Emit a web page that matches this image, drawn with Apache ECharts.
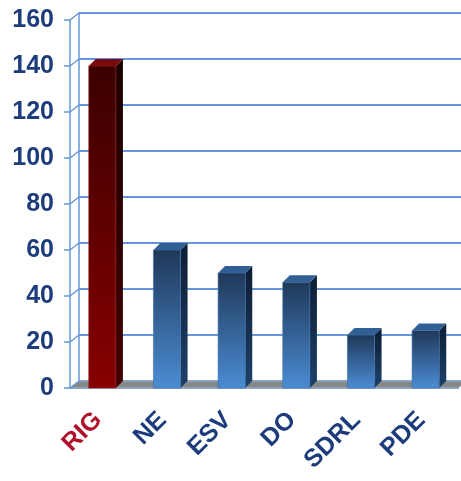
<!DOCTYPE html>
<html>
<head>
<meta charset="utf-8">
<script src="https://cdn.jsdelivr.net/npm/echarts@6/dist/echarts.min.js"></script>
<style>
  html, body { margin: 0; padding: 0; background: #fff; }
  #main { width: 461px; height: 481px; }
</style>
</head>
<body>
<div id="main"></div>
<script>
var categories = ['RIG', 'NE', 'ESV', 'DO', 'SDRL', 'PDE'];
var values = [140, 60, 50, 46, 23, 25];
var yTicks = [0, 20, 40, 60, 80, 100, 120, 140, 160];
var highlight = 'RIG';

var DX = 7, DY = 7;   // bar depth
var WX = 9, WY = 7;   // back wall offset
var gridColor = '#6597d8';
var textBlue = '#1c3c7c';
var textRed = '#b0122c';

function grad(c1, c2) {
  return new echarts.graphic.LinearGradient(0, 0, 0, 1, [
    {offset: 0, color: c1}, {offset: 1, color: c2}
  ]);
}

function renderBar(params, api) {
  var i = api.value(0), v = api.value(1);
  var base = api.coord([i, 0]);
  var top = api.coord([i, v]);
  var bw = api.size([1, 0])[0] * 0.42;
  var x0 = base[0] - bw / 2, x1 = base[0] + bw / 2;
  var y0 = top[1], y1 = base[1];
  var red = categories[i] === highlight;
  var front = red ? grad('#3a0000', '#870000') : grad('#1f3858', '#4b8cd4');
  var side = red ? grad('#1a0000', '#420000') : grad('#0d1d33', '#1d416a');
  var cap = red ? '#7a0a0a' : '#2f5f94';
  return {
    type: 'group',
    children: [
      {type: 'polygon', shape: {points: [[x1, y0], [x1 + DX, y0 - DY], [x1 + DX, y1 - DY], [x1, y1]]},
       style: {fill: side}},
      {type: 'polygon', shape: {points: [[x0, y0], [x0 + DX, y0 - DY], [x1 + DX, y0 - DY], [x1, y0]]},
       style: {fill: cap}},
      {type: 'rect', shape: {x: x0, y: y0, width: bw, height: y1 - y0},
       style: {fill: front, stroke: red ? '#a02020' : '#3d6fa8', lineWidth: 0.6}}
    ]
  };
}

function renderFloor(params, api) {
  var bw = api.size([1, 0])[0];
  var left = api.coord([0, 0])[0] - bw / 2;
  var right = api.coord([categories.length - 1, 0])[0] + bw / 2;
  var y = api.coord([0, 0])[1];
  var kids = [
    {type: 'polygon', shape: {points: [[left, y], [left + WX, y - WY], [right + WX, y - WY], [right, y]]},
     style: {fill: '#878787', stroke: '#a3b9d8', lineWidth: 1}}
  ];
  yTicks.forEach(function (t) {
    var ty = api.coord([0, t])[1];
    kids.push({type: 'line', shape: {x1: left, y1: ty, x2: left + WX, y2: ty - WY},
      style: {stroke: gridColor, lineWidth: 1.5}});
  });
  return {type: 'group', children: kids};
}

var chart = echarts.init(document.getElementById('main'));
chart.setOption({
  animation: false,
  grid: [
    {left: 70, top: 20, width: 388, height: 368},
    {left: 70 + WX, top: 20 - WY, width: 388, height: 368}
  ],
  xAxis: [
    {
      type: 'category', data: categories, gridIndex: 0,
      axisLine: {lineStyle: {color: gridColor, width: 2}},
      axisTick: {length: 6, lineStyle: {color: gridColor, width: 1.5}},
      axisLabel: {
        rotate: 45, margin: 24, fontSize: 25, fontWeight: 'bold',
        fontFamily: 'Liberation Sans, Arial, sans-serif',
        padding: [0, 6, 0, 0],
        color: function (val) { return val === highlight ? textRed : textBlue; }
      }
    },
    {type: 'category', data: categories, gridIndex: 1, show: false}
  ],
  yAxis: [
    {
      type: 'value', min: 0, max: 160, interval: 20, gridIndex: 0,
      axisLine: {show: true, lineStyle: {color: gridColor, width: 1.5}},
      axisTick: {show: true, length: 6, lineStyle: {color: gridColor, width: 1.5}},
      splitLine: {show: false},
      axisLabel: {
        margin: 16, fontSize: 25, fontWeight: 'bold', color: textBlue,
        fontFamily: 'Liberation Sans, Arial, sans-serif'
      }
    },
    {
      type: 'value', min: 0, max: 160, interval: 20, gridIndex: 1,
      axisLine: {show: true, lineStyle: {color: gridColor, width: 1.5}},
      axisTick: {show: false}, axisLabel: {show: false},
      splitLine: {show: true, lineStyle: {color: gridColor, width: 2}}
    }
  ],
  series: [
    {type: 'custom', xAxisIndex: 0, yAxisIndex: 0, z: 1, data: [[0, 0]], renderItem: renderFloor, silent: true},
    {type: 'custom', xAxisIndex: 0, yAxisIndex: 0, z: 3,
     data: values.map(function (v, i) { return [i, v]; }), renderItem: renderBar}
  ]
});
</script>
</body>
</html>
